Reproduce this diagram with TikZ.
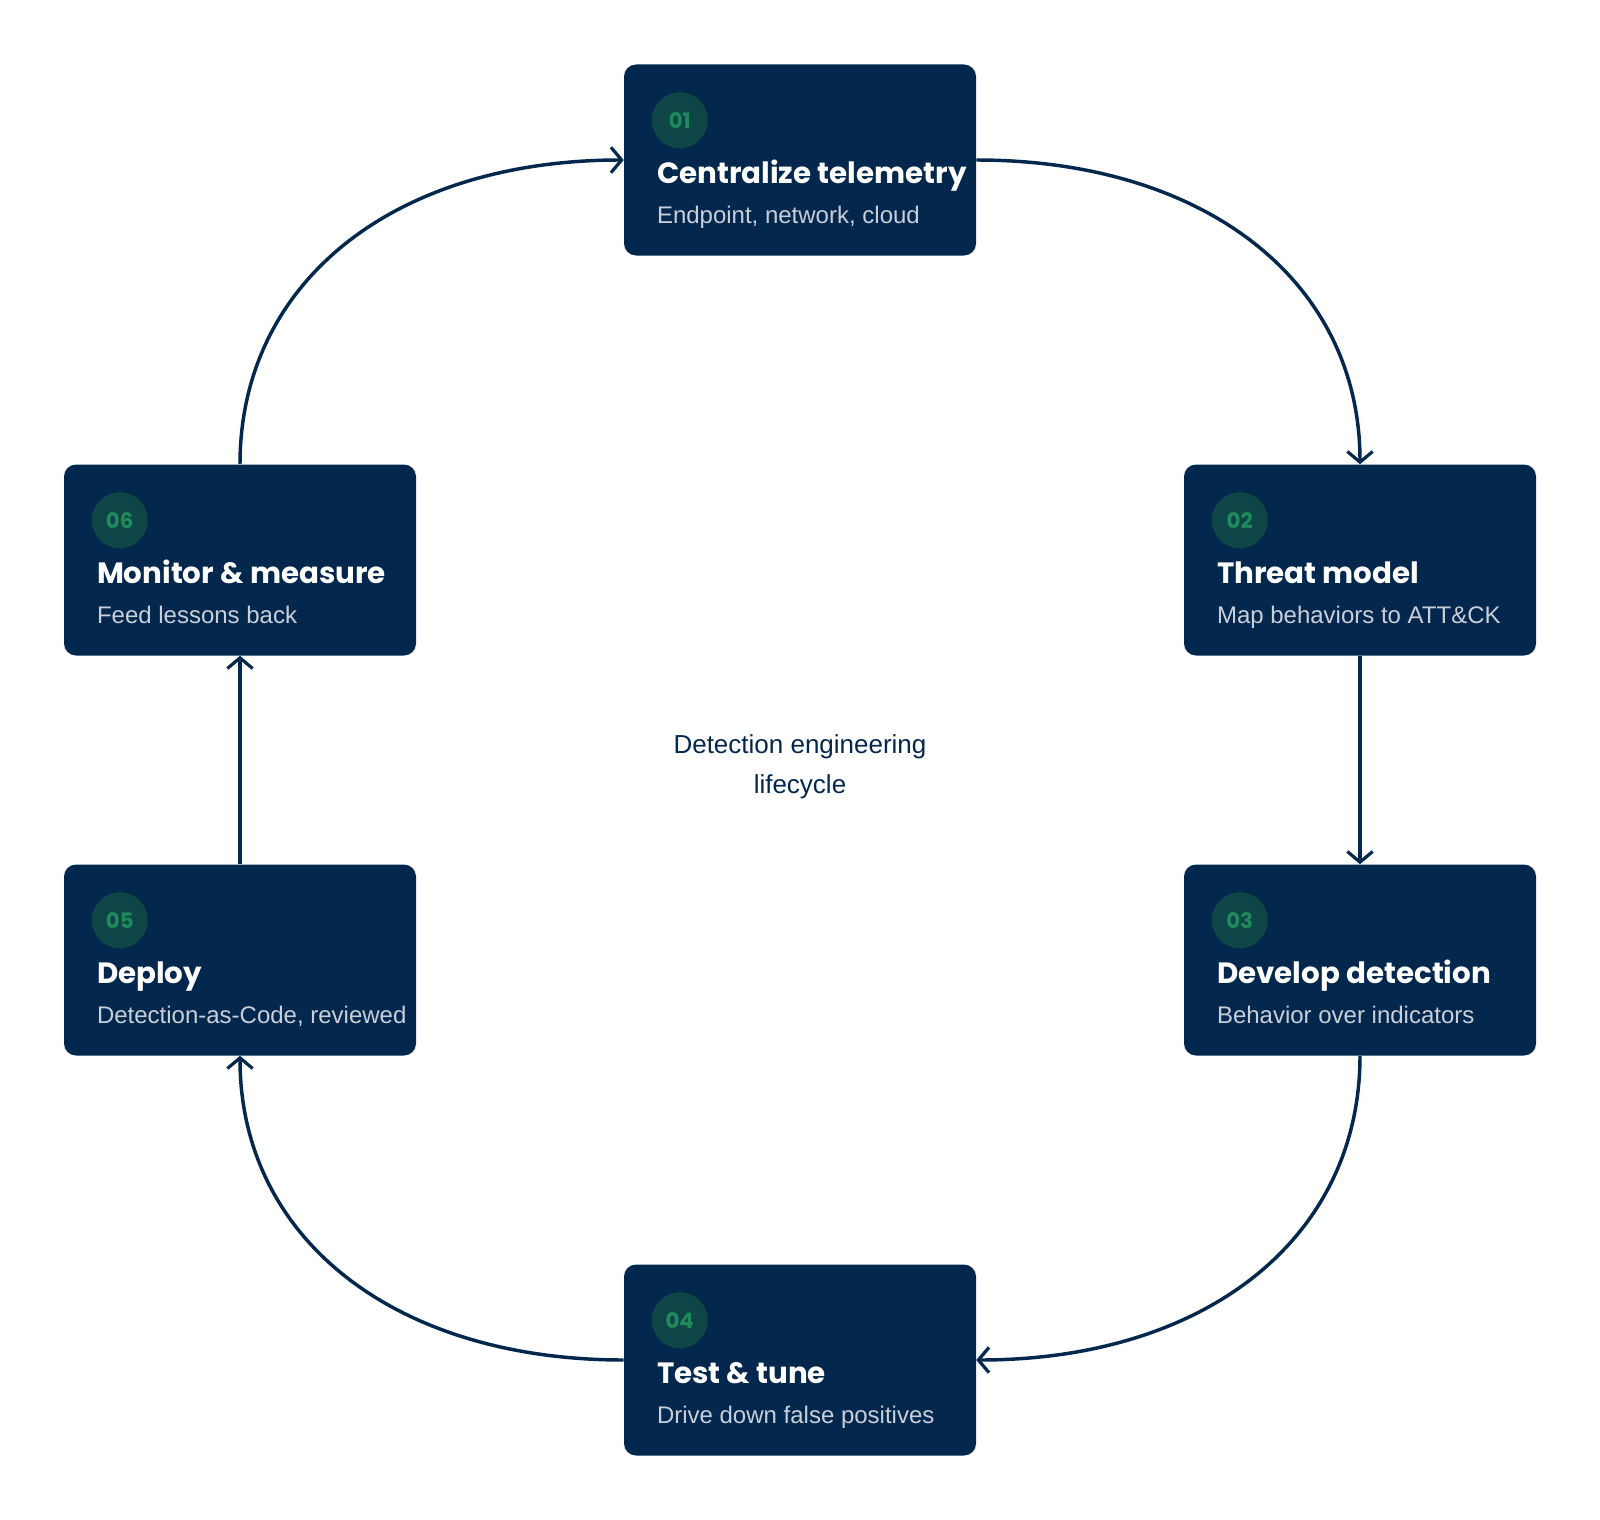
\documentclass[tikz,border=0pt]{standalone}
\usepackage{fontspec}
\setmainfont{Liberation Sans}
\newfontfamily\titlefont{Poppins}
\usetikzlibrary{arrows.meta,calc}
\definecolor{navy}{HTML}{03274D}
\definecolor{numbg}{HTML}{0E4647}
\definecolor{numfg}{HTML}{1F8A5C}
\definecolor{subfg}{HTML}{C8CFD9}
\tikzset{
  stagebox/.style={fill=navy, rounded corners=9pt, minimum width=264pt, minimum height=143.25pt, inner sep=0pt},
  numc/.style={circle, fill=numbg, minimum size=42pt, inner sep=0pt, text=numfg, font=\titlefont\bfseries\fontsize{16}{16}\selectfont},
  ttl/.style={anchor=base west, inner sep=0pt, text=white, font=\titlefont\bfseries\fontsize{22}{24}\selectfont},
  subt/.style={anchor=base west, inner sep=0pt, text=subfg, font=\fontsize{18}{20}\selectfont},
  conn/.style={draw=navy, line width=2.6pt, -{Straight Barb[length=8pt,width=19pt,line width=2.4pt]}},
}
\newcommand\stage[6]{%
  \node[stagebox] (#1) at (#2,#3) {};
  \node[numc] (#1n) at ($(#1.north west)+(56,56)$) {#4};
  \node[ttl] (#1t) at ($(#1.north west)+(33,119)$) {#5};
  \node[subt] (#1s) at ($(#1.north west)+(33,159)$) {#6};
}
\begin{document}
\begin{tikzpicture}[x=0.75pt,y=-0.75pt]
\useasboundingbox (0,0) rectangle (1600,1520);
\stage{b1}{800}{160}{01}{Centralize telemetry}{Endpoint, network, cloud}
\stage{b2}{1360}{560}{02}{Threat model}{Map behaviors to ATT\&CK}
\stage{b3}{1360}{960}{03}{Develop detection}{Behavior over indicators}
\stage{b4}{800}{1360}{04}{Test \& tune}{Drive down false positives}
\stage{b5}{240}{960}{05}{Deploy}{Detection-as-Code, reviewed}
\stage{b6}{240}{560}{06}{Monitor \& measure}{Feed lessons back}
\node[text=navy, align=center, font=\fontsize{19.5}{30}\selectfont] (center) at (800,767) {Detection engineering\\lifecycle};
\draw[conn] (b1.east) .. controls ($(b1.east)+(230,0)$) and ($(b2.north)+(0,-182)$) .. (b2.north);
\draw[conn] (b2.south) -- (b3.north);
\draw[conn] (b3.south) .. controls ($(b3.south)+(0,182)$) and ($(b4.east)+(230,0)$) .. (b4.east);
\draw[conn] (b4.west) .. controls ($(b4.west)+(-230,0)$) and ($(b5.south)+(0,182)$) .. (b5.south);
\draw[conn] (b5.north) -- (b6.south);
\draw[conn] (b6.north) .. controls ($(b6.north)+(0,-182)$) and ($(b1.west)+(-230,0)$) .. (b1.west);
\end{tikzpicture}
\end{document}
